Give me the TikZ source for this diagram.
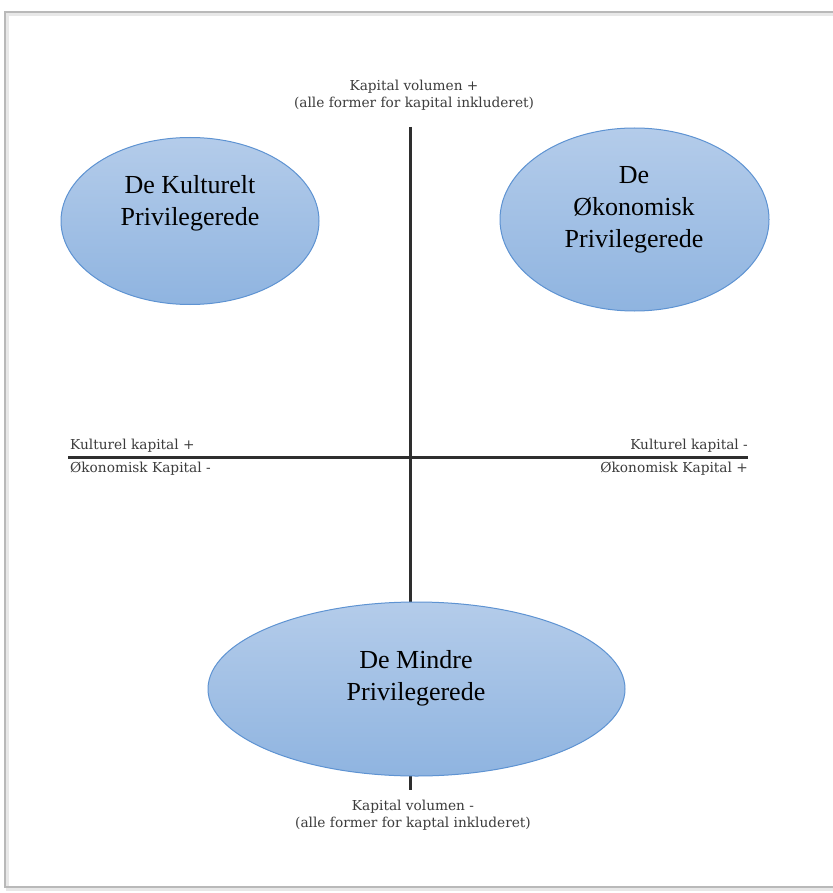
\documentclass[tikz,border=0pt]{standalone}
\usepackage{fontspec}
\setmainfont{Liberation Serif}
\newfontfamily\lblfont{DejaVu Serif}
\usetikzlibrary{shapes.geometric}
\definecolor{ellfillA}{HTML}{B4CCEA}
\definecolor{ellfillB}{HTML}{8FB4E0}
\definecolor{ellline}{HTML}{5E93D2}
\definecolor{axiscol}{HTML}{2E2E2E}
\definecolor{lblcol}{HTML}{3C3C3C}
\begin{document}
\begin{tikzpicture}[x=1pt,y=-1pt,
  blob/.style={ellipse, draw=ellline, line width=1pt, top color=ellfillA, bottom color=ellfillB, inner sep=0pt},
  bigtxt/.style={font=\fontsize{26}{32}\selectfont, align=center, text=black, inner sep=0pt},
  smalltxt/.style={font=\lblfont\fontsize{13.7}{17}\selectfont, text=lblcol, inner sep=0pt},
  axisline/.style={draw=axiscol, line width=3pt},
  framebox/.style={draw=gray!55, line width=1.2pt},
  frameshadow/.style={draw=gray!18, line width=3pt}]
\useasboundingbox (0,0) rectangle (832,893);
\fill[white] (0,0) rectangle (832,893);
% page frame with soft shadow
\draw[frameshadow] (7.5,14.5) rectangle (850,889);
\draw[framebox] (5,12) rectangle (850,887);
% axes
\coordinate (vtop) at (410,127);
\coordinate (vbot) at (410,790);
\coordinate (hleft) at (68,457);
\coordinate (hright) at (748,457);
\draw[axisline] (vtop) -- (vbot);
\draw[axisline] (hleft) -- (hright);
% axis labels
\node[smalltxt, align=center] (toplbl) at (414,95) {Kapital volumen +\\(alle former for kapital inkluderet)};
\node[smalltxt, anchor=west] (kplus) at (70,446) {Kulturel kapital +};
\node[smalltxt, anchor=west] (ominus) at (70,469) {Økonomisk Kapital -};
\node[smalltxt, anchor=east] (kminus) at (748,446) {Kulturel kapital -};
\node[smalltxt, anchor=east] (oplus) at (748,469) {Økonomisk Kapital +};
\node[smalltxt, align=center] (botlbl) at (413,815) {Kapital volumen -\\(alle former for kaptal inkluderet)};
% ellipses
\node[blob, minimum width=258pt, minimum height=167pt] (kult) at (190,221) {};
\node[bigtxt] (kulttxt) at (190,203) {De Kulturelt\\Privilegerede};
\node[blob, minimum width=269pt, minimum height=183pt] (okon) at (634.5,219.5) {};
\node[bigtxt] (okontxt) at (634,210) {De\\Økonomisk\\Privilegerede};
\node[blob, minimum width=417pt, minimum height=174pt] (mindre) at (416.5,689) {};
\node[bigtxt] (mindretxt) at (416,678) {De Mindre\\Privilegerede};
\end{tikzpicture}
\end{document}
